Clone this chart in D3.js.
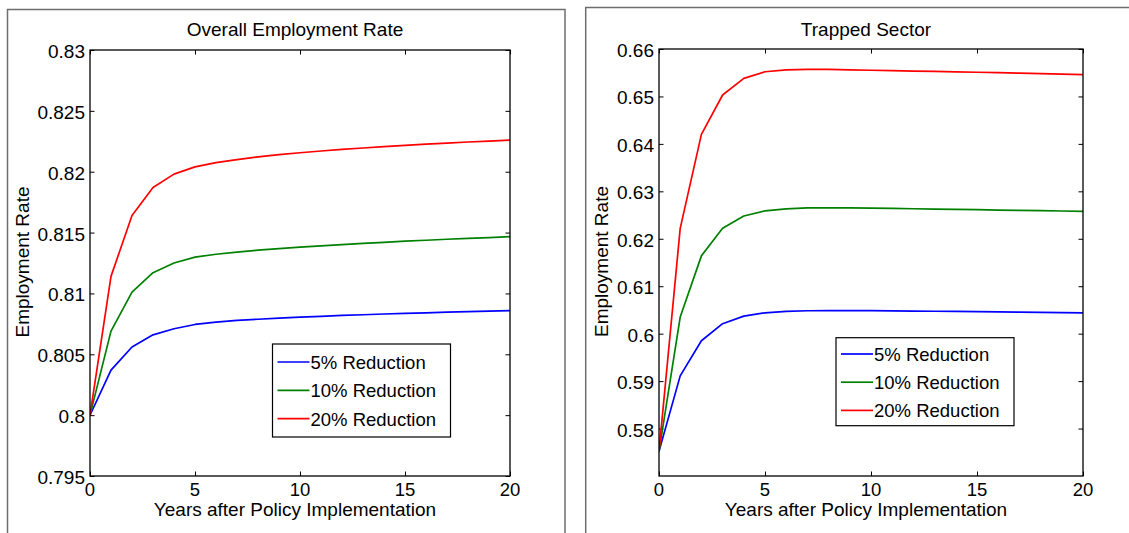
<!DOCTYPE html>
<html>
<head>
<meta charset="utf-8">
<script src="https://cdn.jsdelivr.net/npm/d3@7"></script>
<style>
    body { margin: 0; background: #fff; }
    svg text { font-family: Arial, "Liberation Sans", Helvetica, sans-serif; fill: #000; }
</style>
</head>
<body>
<div id="chart"></div>
<script>
// data
const years = [0,1,2,3,4,5,6,7,8,9,10,11,12,13,14,15,16,17,18,19,20];

const overall5  = [0.80000,0.80370,0.80560,0.80660,0.80710,0.80745,0.80765,0.80778,0.80788,0.80797,0.80805,
                   0.80812,0.80819,0.80825,0.80831,0.80836,0.80841,0.80846,0.80851,0.80855,0.80859];
const overall10 = [0.80000,0.80690,0.81010,0.81170,0.81250,0.81298,0.81322,0.81340,0.81355,0.81368,0.81380,
                   0.81391,0.81401,0.81411,0.81420,0.81429,0.81437,0.81445,0.81452,0.81459,0.81466];
const overall20 = [0.80000,0.81140,0.81640,0.81870,0.81980,0.82040,0.82075,0.82100,0.82122,0.82140,0.82156,
                   0.82170,0.82183,0.82195,0.82206,0.82216,0.82226,0.82235,0.82244,0.82252,0.82260];

const trapped5  = [0.57520,0.59110,0.59850,0.60210,0.60370,0.60440,0.60470,0.60483,0.60487,0.60487,0.60484,
                   0.60480,0.60476,0.60472,0.60468,0.60464,0.60460,0.60455,0.60450,0.60445,0.60440];
const trapped10 = [0.57520,0.60350,0.61640,0.62220,0.62480,0.62590,0.62630,0.62650,0.62652,0.62650,0.62645,
                   0.62639,0.62633,0.62627,0.62620,0.62613,0.62606,0.62599,0.62592,0.62585,0.62578];
const trapped20 = [0.57520,0.62220,0.64200,0.65030,0.65380,0.65520,0.65560,0.65572,0.65569,0.65562,0.65552,
                   0.65544,0.65535,0.65527,0.65518,0.65510,0.65500,0.65490,0.65480,0.65470,0.65460];

const seriesNames = ["5% Reduction", "10% Reduction", "20% Reduction"];
const seriesColors = ["#0000ff", "#008000", "#ff0000"];

const xTicks = [0, 5, 10, 15, 20];
const overallTicks = [0.795, 0.8, 0.805, 0.81, 0.815, 0.82, 0.825, 0.83];
const trappedTicks = [0.58, 0.59, 0.6, 0.61, 0.62, 0.63, 0.64, 0.65, 0.66];

const W = 1129, H = 533;

const svg = d3.select("#chart")
    .append("svg")
    .attr("width", W)
    .attr("height", H);

function drawPanel(p) {
    const g = svg.append("g");

    // outer figure frame (gray, runs off the picture)
    g.append("rect")
        .attr("x", p.frame[0]).attr("y", p.frame[1])
        .attr("width", p.frame[2]).attr("height", p.frame[3])
        .attr("fill", "none")
        .attr("stroke", "#6e6e6e")
        .attr("stroke-width", 1.5);

    const x = d3.scaleLinear().domain([0, 20]).range([p.left, p.right]);
    const y = d3.scaleLinear().domain(p.yDomain).range([p.bottom, p.top]);

    const tickLen = 4.5;

    // inward ticks on all four sides
    g.append("g")
        .attr("transform", "translate(0," + p.bottom + ")")
        .call(d3.axisTop(x).tickValues(xTicks).tickSize(tickLen).tickFormat(""))
        .call(s => s.select(".domain").remove());
    g.append("g")
        .attr("transform", "translate(0," + p.top + ")")
        .call(d3.axisBottom(x).tickValues(xTicks).tickSize(tickLen).tickFormat(""))
        .call(s => s.select(".domain").remove());
    g.append("g")
        .attr("transform", "translate(" + p.left + ",0)")
        .call(d3.axisRight(y).tickValues(p.yTicks).tickSize(tickLen).tickFormat(""))
        .call(s => s.select(".domain").remove());
    g.append("g")
        .attr("transform", "translate(" + p.right + ",0)")
        .call(d3.axisLeft(y).tickValues(p.yTicks).tickSize(tickLen).tickFormat(""))
        .call(s => s.select(".domain").remove());
    g.selectAll(".tick line").attr("stroke", "#000").attr("stroke-width", 1);

    // tick labels
    g.selectAll(".xlab")
        .data(xTicks)
        .enter()
        .append("text")
        .attr("x", d => x(d))
        .attr("y", p.bottom + 20)
        .attr("text-anchor", "middle")
        .attr("font-size", 18.5)
        .text(d => d);

    g.selectAll(".ylab")
        .data(p.yTicks)
        .enter()
        .append("text")
        .attr("x", p.left - 5)
        .attr("y", d => y(d) + 8)
        .attr("text-anchor", "end")
        .attr("font-size", 19)
        .text(d => String(+d.toFixed(3)));

    // lines
    const line = d3.line()
        .x((d, i) => x(years[i]))
        .y(d => y(d));

    const clipId = "clip" + p.id;
    g.append("clipPath").attr("id", clipId)
        .append("rect")
        .attr("x", p.left).attr("y", p.top)
        .attr("width", p.right - p.left).attr("height", p.bottom - p.top);

    g.append("g")
        .attr("clip-path", "url(#" + clipId + ")")
        .selectAll("path")
        .data(p.series)
        .enter()
        .append("path")
        .attr("d", d => line(d))
        .attr("fill", "none")
        .attr("stroke", (d, i) => seriesColors[i])
        .attr("stroke-width", 1.7)
        .attr("stroke-linejoin", "round");

    // plot box
    g.append("rect")
        .attr("x", p.left).attr("y", p.top)
        .attr("width", p.right - p.left).attr("height", p.bottom - p.top)
        .attr("fill", "none")
        .attr("stroke", "#000")
        .attr("stroke-width", 1.3);

    // title and axis labels
    g.append("text")
        .text(p.title)
        .attr("x", (p.left + p.right) / 2 - 5)
        .attr("y", 36)
        .attr("text-anchor", "middle")
        .attr("font-size", 19);

    g.append("text")
        .text("Years after Policy Implementation")
        .attr("x", (p.left + p.right) / 2 - 5)
        .attr("y", 516)
        .attr("text-anchor", "middle")
        .attr("font-size", 19);

    g.append("text")
        .text("Employment Rate")
        .attr("transform", "translate(" + p.yLabelX + "," + ((p.top + p.bottom) / 2 - 1) + ") rotate(-90)")
        .attr("text-anchor", "middle")
        .attr("font-size", 19);

    // legend
    const lg = g.append("g");
    lg.append("rect")
        .attr("x", p.legend[0]).attr("y", p.legend[1])
        .attr("width", p.legend[2]).attr("height", p.legend[3])
        .attr("fill", "#fff")
        .attr("stroke", "#000")
        .attr("stroke-width", 1.2);

    const rows = lg.selectAll(".row")
        .data(seriesNames)
        .enter()
        .append("g")
        .attr("transform", (d, i) => "translate(" + p.legend[0] + "," + (p.legendRow0 + i * p.legendStep) + ")");
    rows.append("line")
        .attr("x1", 5).attr("x2", 37)
        .attr("y1", 0).attr("y2", 0)
        .attr("stroke", (d, i) => seriesColors[i])
        .attr("stroke-width", 1.7);
    rows.append("text")
        .text(d => d)
        .attr("x", 38)
        .attr("y", 7)
        .attr("font-size", 18.5);
}

drawPanel({
    id: "a",
    title: "Overall Employment Rate",
    frame: [7.5, 9.5, 557.5, 560],
    left: 90, right: 510, top: 50, bottom: 476,
    yDomain: [0.795, 0.83],
    yTicks: overallTicks,
    series: [overall5, overall10, overall20],
    yLabelX: 29,
    legend: [272.5, 344, 178, 93],
    legendRow0: 362,
    legendStep: 28.3
});

drawPanel({
    id: "b",
    title: "Trapped Sector",
    frame: [585.7, 7.5, 600, 560],
    left: 659, right: 1083, top: 49, bottom: 476,
    yDomain: [0.57, 0.66],
    yTicks: trappedTicks,
    series: [trapped5, trapped10, trapped20],
    yLabelX: 608,
    legend: [836, 337.7, 178, 88],
    legendRow0: 354,
    legendStep: 28.2
});
</script>
</body>
</html>
